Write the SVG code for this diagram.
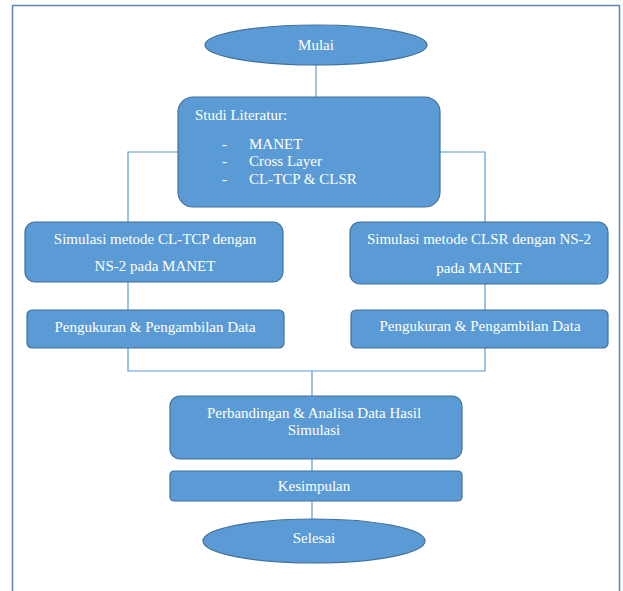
<svg xmlns="http://www.w3.org/2000/svg" width="623" height="591" viewBox="0 0 623 591">
<style>
.n{fill:#5b9bd5;stroke:#41719c;stroke-width:1.2}
.t{font-family:"Liberation Serif","Times New Roman",serif;font-size:15px;fill:#ffffff}
.c{text-anchor:middle}
.k{fill:none;stroke:#5b9bd5;stroke-width:1.2}
</style>
<rect width="623" height="591" fill="#ffffff"/>
<path d="M12.5,591 V5.5 H619.5 V591" fill="none" stroke="#5f86b3" stroke-width="1.5"/>
<g id="connectors">
<path class="k" d="M316,65 V97"/>
<path class="k" d="M178,152 H128 V222"/>
<path class="k" d="M440,152 H485 V222"/>
<path class="k" d="M128,282 V310"/>
<path class="k" d="M485,284 V310"/>
<path class="k" d="M128,348 V371 H485 V348"/>
<path class="k" d="M312,371 V396"/>
<path class="k" d="M312,459 V471"/>
<path class="k" d="M312,501 V519"/>
</g>
<g id="mulai">
<ellipse class="n" cx="316" cy="45" rx="111" ry="20"/>
<text class="t c" x="316" y="50">Mulai</text>
</g>
<g id="studi">
<rect class="n" x="178" y="97" width="262" height="110" rx="15"/>
<text class="t" x="195" y="120">Studi Literatur:</text>
<text class="t" x="222" y="149">-</text>
<text class="t" x="249" y="149">MANET</text>
<text class="t" x="222" y="166">-</text>
<text class="t" x="249" y="166">Cross Layer</text>
<text class="t" x="222" y="184">-</text>
<text class="t" x="249" y="184">CL-TCP &amp; CLSR</text>
</g>
<g id="sim-cltcp">
<rect class="n" x="25" y="222" width="258" height="60" rx="10"/>
<text class="t c" x="155" y="244">Simulasi metode CL-TCP dengan</text>
<text class="t c" x="155" y="271">NS-2 pada MANET</text>
</g>
<g id="sim-clsr">
<rect class="n" x="350" y="222" width="258" height="62" rx="10"/>
<text class="t c" x="479" y="244">Simulasi metode CLSR dengan NS-2</text>
<text class="t c" x="479" y="273">pada MANET</text>
</g>
<g id="ukur-kiri">
<rect class="n" x="27" y="310" width="257" height="38" rx="5"/>
<text class="t c" x="155" y="332">Pengukuran &amp; Pengambilan Data</text>
</g>
<g id="ukur-kanan">
<rect class="n" x="351" y="310" width="257" height="38" rx="5"/>
<text class="t c" x="480" y="331">Pengukuran &amp; Pengambilan Data</text>
</g>
<g id="perbandingan">
<rect class="n" x="170" y="396" width="292" height="63" rx="10"/>
<text class="t c" x="314" y="418">Perbandingan &amp; Analisa Data Hasil</text>
<text class="t c" x="314" y="435">Simulasi</text>
</g>
<g id="kesimpulan">
<rect class="n" x="170" y="471" width="292" height="30" rx="4"/>
<text class="t c" x="314" y="491">Kesimpulan</text>
</g>
<g id="selesai">
<ellipse class="n" cx="314" cy="541" rx="111" ry="22"/>
<text class="t c" x="314" y="543">Selesai</text>
</g>
</svg>
